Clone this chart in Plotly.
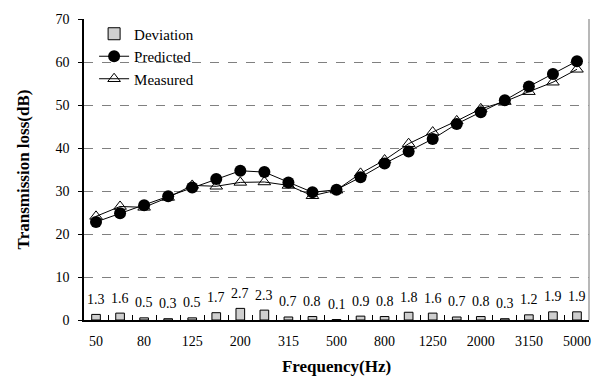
import plotly.graph_objects as go

freqs = ["50", "63", "80", "100", "125", "160", "200", "250", "315", "400", "500",
         "630", "800", "1000", "1250", "1600", "2000", "2500", "3150", "4000", "5000"]
predicted = [22.8, 24.8, 26.7, 28.8, 30.8, 32.8, 34.7, 34.4, 32.0, 29.7, 30.3,
             33.2, 36.4, 39.2, 42.1, 45.6, 48.3, 51.1, 54.3, 57.2, 60.2]
measured = [24.1, 26.4, 26.2, 28.5, 31.3, 31.1, 32.0, 32.1, 31.3, 28.9, 30.2,
            34.1, 37.2, 41.0, 43.7, 46.3, 49.1, 50.8, 53.1, 55.3, 58.3]
deviation = [1.3, 1.6, 0.5, 0.3, 0.5, 1.7, 2.7, 2.3, 0.7, 0.8, 0.1,
             0.9, 0.8, 1.8, 1.6, 0.7, 0.8, 0.3, 1.2, 1.9, 1.9]
y_ticks = [0, 10, 20, 30, 40, 50, 60, 70]

FONT = "Liberation Serif, Times New Roman, serif"
n = len(freqs)
xpos = list(range(n))

fig = go.Figure()
fig.add_trace(go.Bar(
    x=xpos, y=deviation, name="Deviation", width=0.36,
    customdata=freqs, hovertemplate="%{customdata} Hz: %{y}<extra></extra>",
    marker=dict(color="#cfcfcf", line=dict(color="black", width=1)),
    legendrank=1,
))
fig.add_trace(go.Scatter(
    x=xpos, y=measured, name="Measured", mode="lines+markers",
    customdata=freqs, hovertemplate="%{customdata} Hz: %{y}<extra></extra>",
    line=dict(color="black", width=1),
    marker=dict(symbol="triangle-up-open", size=11, color="black", line=dict(width=1)),
    legendrank=3,
))
fig.add_trace(go.Scatter(
    x=xpos, y=predicted, name="Predicted", mode="lines+markers",
    customdata=freqs, hovertemplate="%{customdata} Hz: %{y}<extra></extra>",
    line=dict(color="black", width=1),
    marker=dict(symbol="circle", size=12, color="black"),
    legendrank=2,
))

for i, d in enumerate(deviation):
    fig.add_annotation(x=i, y=d, text=f"{d:.1f}", showarrow=False, yshift=15,
                       font=dict(family=FONT, size=14, color="black"))

fig.add_shape(type="line", xref="paper", yref="paper", x0=1, x1=1, y0=0, y1=1,
              line=dict(color="#a0a0a0", width=1.5))

fig.update_layout(
    width=603, height=387,
    margin=dict(l=84, r=12, t=14, b=67),
    paper_bgcolor="white", plot_bgcolor="white",
    font=dict(family=FONT, size=14, color="black"),
    showlegend=True,
    legend=dict(x=0.02, y=1.005, xanchor="left", yanchor="top",
                bgcolor="rgba(0,0,0,0)", font=dict(size=15), tracegroupgap=0,
                itemwidth=30),
    bargap=0.64,
    xaxis=dict(
        type="linear", range=[-0.5, n - 0.5],
        tickmode="array", tickvals=xpos[::2], ticktext=freqs[::2],
        tickangle=0, ticks="inside", ticklen=1, tickcolor="rgba(0,0,0,0)",
        ticklabelstandoff=7,
        minor=dict(tickmode="array", tickvals=[i + 0.5 for i in range(n - 1)],
                   ticks="inside", ticklen=5, tickwidth=1, tickcolor="black",
                   showgrid=False),
        showline=True, linecolor="black", linewidth=1.5, showgrid=False,
        zeroline=False,
        title=dict(text="<b>Frequency(Hz)</b>", font=dict(size=17), standoff=13),
        tickfont=dict(size=14),
    ),
    yaxis=dict(
        range=[0, 70], tickvals=y_ticks,
        ticks="outside", ticklen=4, tickcolor="black", ticklabelstandoff=6,
        showline=True, linecolor="black", linewidth=1.5,
        showgrid=True, gridcolor="#808080", gridwidth=1, griddash="dash",
        zeroline=False,
        title=dict(text="<b>Transmission loss(dB)</b>", font=dict(size=17), standoff=22),
        tickfont=dict(size=14),
    ),
)

fig.write_html("out.html")
